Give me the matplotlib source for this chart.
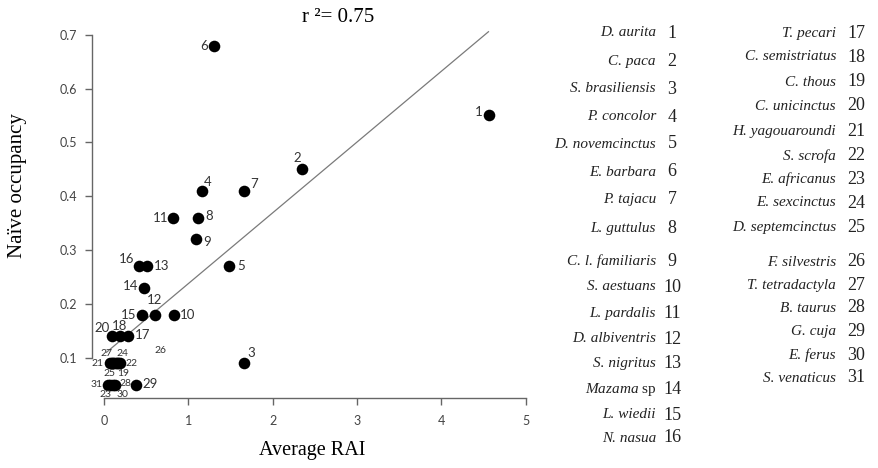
import matplotlib
matplotlib.use("Agg")
import matplotlib.pyplot as plt

# Average RAI and naive occupancy for each species (numbered 1..31)
species = ["D. aurita", "C. paca", "S. brasiliensis", "P. concolor",
           "D. novemcinctus", "E. barbara", "P. tajacu", "L. guttulus",
           "C. l. familiaris", "S. aestuans", "L. pardalis", "D. albiventris",
           "S. nigritus", r"$\mathit{Mazama}$ sp", "L. wiedii", "N. nasua",
           "T. pecari", "C. semistriatus", "C. thous", "C. unicinctus",
           "H. yagouaroundi", "S. scrofa", "E. africanus", "E. sexcinctus",
           "D. septemcinctus", "F. silvestris", "T. tetradactyla", "B. taurus",
           "G. cuja", "E. ferus", "S. venaticus"]
rai = [4.57, 2.35, 1.66, 1.16, 1.48, 1.30, 1.66, 1.115, 1.09, 0.83, 0.82,
       0.605, 0.515, 0.48, 0.45, 0.415, 0.29, 0.19, 0.17, 0.10, 0.07, 0.19,
       0.07, 0.15, 0.11, 0.13, 0.09, 0.13, 0.375, 0.11, 0.05]
occupancy = [0.55, 0.45, 0.09, 0.41, 0.27, 0.68, 0.41, 0.36, 0.32, 0.18, 0.36,
             0.18, 0.27, 0.23, 0.18, 0.27, 0.14, 0.14, 0.09, 0.14, 0.09, 0.09,
             0.05, 0.09, 0.09, 0.09, 0.09, 0.05, 0.05, 0.05, 0.05]

# regression line
fit_intercept = 0.106
fit_slope = 0.1315
fit_range = [0.03, 4.56]
r_squared = 0.75

# label placement around each dot: (dx px, dy px, ha)
label_pos = {
    1: (-7, 3, "right"), 2: (-5, 11, "center"), 3: (7, 10, "center"),
    4: (6, 9, "center"), 5: (8, 0, "left"), 6: (-6, 0, "right"),
    7: (10, 7, "center"), 8: (7, 2, "left"), 9: (7, -3, "left"),
    10: (6, 0, "left"), 11: (-5, 0, "right"), 12: (0, 15, "center"),
    13: (6, 0, "left"), 14: (-6, 2, "right"), 15: (-6, 0, "right"),
    16: (-12, 7, "center"), 17: (6, 1, "left"), 18: (0, 10, "center"),
    19: (5, -10, "center"), 20: (-10, 8, "center"), 21: (-6, 0, "right"),
    22: (5, 0, "left"), 23: (-4, -10, "center"), 24: (6, 10, "center"),
    25: (-4, -10, "center"), 26: (46, 13, "center"), 27: (-5, 10, "center"),
    28: (5, 1, "left"), 29: (7, 1, "left"), 30: (9, -10, "center"),
    31: (-6, 0, "right"),
}
small_labels = {19, 21, 22, 23, 24, 25, 26, 27, 28, 30, 31}

plt.rcParams["mathtext.fontset"] = "custom"
plt.rcParams["mathtext.it"] = "Liberation Serif:italic"
plt.rcParams["mathtext.rm"] = "Liberation Serif"

W, H = 879, 468
fig = plt.figure(figsize=(W / 100, H / 100), dpi=100)
ax = fig.add_axes([92 / W, (H - 398) / H, (534 - 92) / W, (398 - 24) / H])
ax.set_xlim(-0.142, 5.1)
ax.set_ylim(0.025, 0.72)

ax.plot(fit_range, [fit_intercept + fit_slope * x for x in fit_range],
        color="#7a7a7a", lw=0.9, zorder=1)
ax.scatter(rai, occupancy, s=70, color="black", zorder=3, linewidths=0)

for i, (x, y) in enumerate(zip(rai, occupancy)):
    n = i + 1
    dx, dy, ha = label_pos[n]
    ax.annotate(str(n), (x, y), xytext=(dx, dy), textcoords="offset pixels",
                ha=ha, va="center", fontsize=7.5 if n in small_labels else 9.5,
                family="Lato", color="#333333", zorder=4)

for side in ["top", "right"]:
    ax.spines[side].set_visible(False)
ax.spines["left"].set_bounds(0.1, 0.7)
ax.spines["bottom"].set_bounds(0, 5)
for side in ["left", "bottom"]:
    ax.spines[side].set_color("#666666")
    ax.spines[side].set_linewidth(1)

ax.set_xticks([0, 1, 2, 3, 4, 5])
ax.set_yticks([0.1, 0.2, 0.3, 0.4, 0.5, 0.6, 0.7])
ax.set_yticklabels(["0.1", "0.2", "0.3", "0.4", "0.5", "0.6", "0.7"])
ax.tick_params(axis="both", direction="out", length=5, width=1,
               color="#666666", labelcolor="#444444", labelsize=9)
ax.tick_params(axis="y", pad=5.5)
ax.tick_params(axis="x", pad=7.5)
for lab in ax.get_xticklabels() + ax.get_yticklabels():
    lab.set_family("Lato")

fig.text(18 / W, 1 - 186 / H, "Naïve occupancy", rotation=90, ha="center",
         va="center", family="Liberation Serif", fontsize=15)
fig.text(312 / W, 1 - 450 / H, "Average RAI", ha="center", va="center",
         family="Liberation Serif", fontsize=14.5)
fig.text(338 / W, 1 - 18 / H, f"r ²= {r_squared:.2f}", ha="center",
         va="center", family="Liberation Serif", fontsize=15)

# numbered species key, two columns
col1_y = [33, 61, 89, 117, 144, 172, 200, 228,
          261, 287, 313, 339, 364, 390, 415, 438]
col2_y = [33, 57, 82, 106, 132, 156, 179, 203, 227,
          262, 285, 308, 332, 355, 378]
keys = [(656, 672, y) for y in col1_y] + [(836, 856, y) for y in col2_y]
for i, (name, (xn, xk, y)) in enumerate(zip(species, keys)):
    style = "normal" if name.startswith("$") else "italic"
    fig.text(xn / W, 1 - y / H, name, ha="right", va="center",
             family="Liberation Serif", style=style, fontsize=11,
             color="#222222")
    fig.text(xk / W, 1 - y / H, str(i + 1), ha="center", va="center",
             family="Liberation Serif", fontsize=13, color="#222222")

fig.savefig("out.png", dpi=100, facecolor="white")
